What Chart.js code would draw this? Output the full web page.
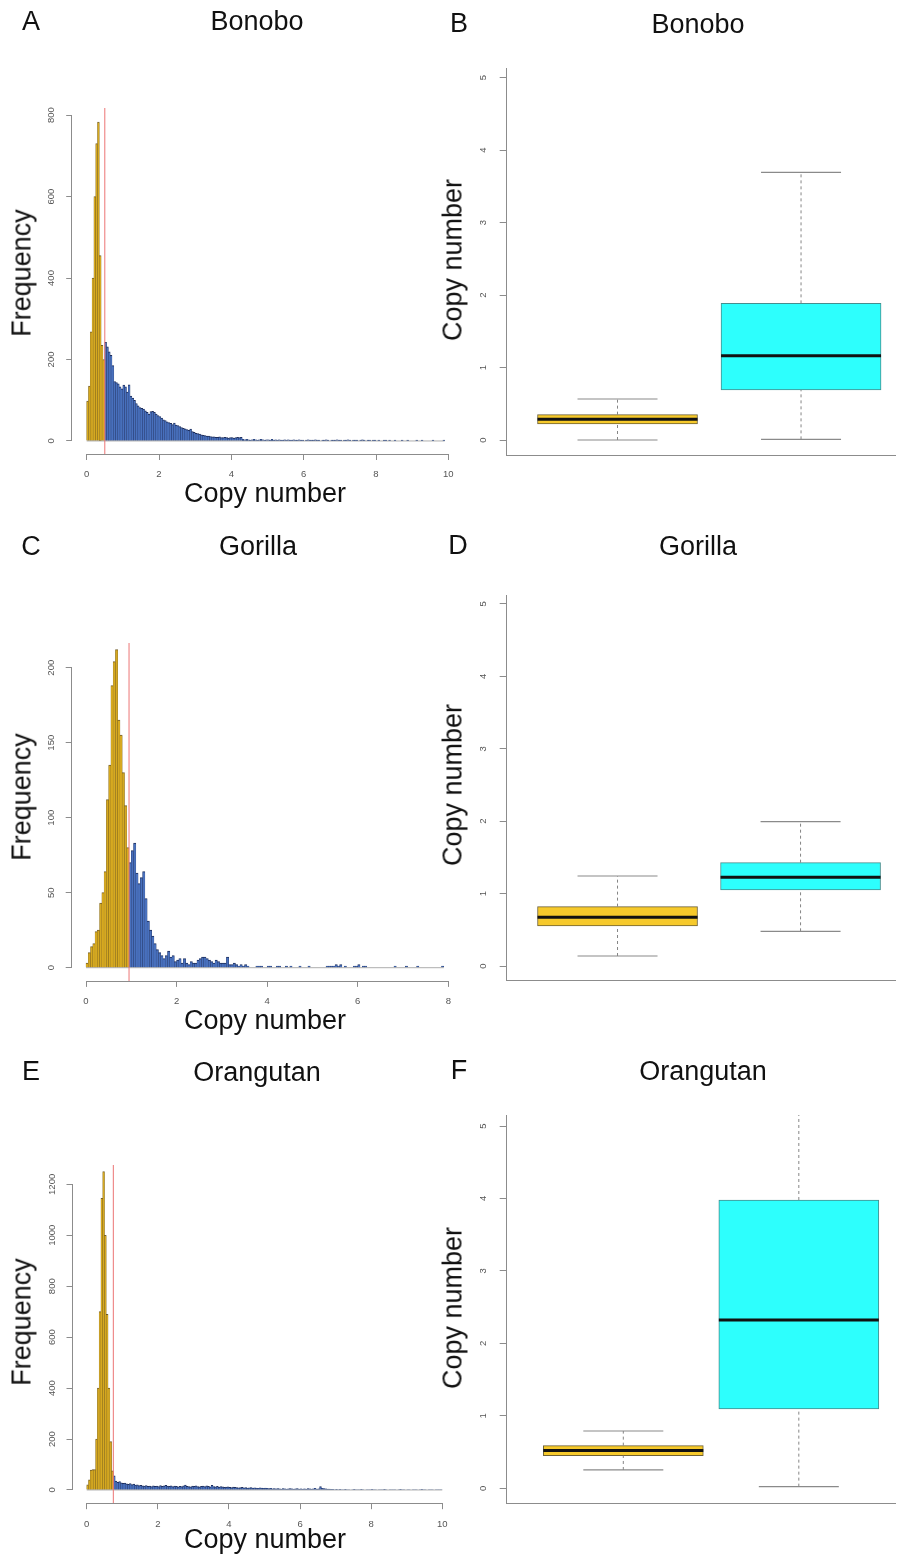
<!DOCTYPE html>
<html>
<head>
<meta charset="utf-8">
<script src="https://cdn.jsdelivr.net/npm/chart.js@4.4.1/dist/chart.umd.min.js"></script>
<style>
html,body{margin:0;padding:0;background:#fff;}
#page{position:relative;width:902px;height:1564px;overflow:hidden;background:#fff;font-family:"Liberation Sans",Arial,Helvetica,sans-serif;}
canvas{position:absolute;}
.t{position:absolute;white-space:nowrap;line-height:1;color:#111;font-size:27px;transform:translate(-50%,-50%);}
.t.r{transform:translate(-50%,-50%) rotate(-90deg);}
</style>
</head>
<body>
<div id="page"></div>
<script>
// ---------------- DATA ----------------
const binWidth = 0.05;

// Bonobo histogram (counts per 0.05 bin)
const bonoboThreshold = 0.5;
const bonoboBelow = [98, 135, 268, 400, 600, 730, 783, 455, 235, 200];
const bonoboAbove = [
  242,231,219,210,185,146,143,140,133,128,
  137,133,120,138,110,105,100,92,86,82,
  80,78,74,70,66,72,73,70,66,62,
  60,56,52,50,47,45,43,40,44,39,
  38,35,33,31,30,28,26,29,23,21,
  19,18,17,15,14,13,12,12,11,10,
  10,9,9,10,8,8,9,8,7,8,
  8,7,8,9,8,9,
  4,3,4,3,2,3,4,3,2,3,
  4,3,2,3,3,2,4,2,3,2,
  3,2,2,3,2,3,2,2,3,2,
  2,3,2,2,1,2,3,2,2,2,
  3,2,2,1,2,2,3,2,1,2,
  2,2,3,2,2,1,2,2,3,2,
  1,2,2,2,1,2,3,2,1,2,
  2,1,2,2,1,2,1,1,2,2,
  1,2,1,1,2,1,0,1,2,1,
  1,2,1,1,0,1,2,1,1,2,
  1,1,0,1,1,2,1,1,1,0,
  1,2];
const bonoboXTicks = [0, 2, 4, 6, 8, 10];
const bonoboYTicks = [0, 200, 400, 600, 800];

// Gorilla histogram
const gorillaThreshold = 0.95;
const gorillaBelow = [3, 10, 14, 16, 24, 25, 43, 50, 64, 112, 135, 188, 204, 212, 165, 155, 130, 108, 80];
const gorillaAbove = [
  70,78,83,63,56,60,64,46,31,25,
  21,16,12,10,8,6,8,11,7,8,
  4,5,6,3,6,3,2,4,3,3,
  5,6,7,7,6,5,4,3,5,4,
  3,3,3,7,2,2,3,2,1,2,
  1,2,1,0,0,0,1,1,1,0,
  0,1,1,0,0,1,1,0,0,1,
  0,1,0,0,0,1,0,0,0,1,
  0,0,0,0,0,0,0,1,1,1,
  1,2,1,2,0,1,0,0,0,1,
  1,2,0,1,1,0,0,0,0,0,
  0,0,0,0,0,0,0,1,0,0,
  0,0,1,0,0,0,0,1,0,0,
  0,0,0,0,0,0,0,0,1];
const gorillaXTicks = [0, 2, 4, 6, 8];
const gorillaYTicks = [0, 50, 100, 150, 200];

// Orangutan histogram
const orangutanThreshold = 0.75;
const orangutanBelow = [20, 40, 78, 80, 80, 200, 400, 700, 1145, 1250, 1000, 690, 400, 190, 75];
const orangutanAbove = [
  55,35,30,33,28,26,27,24,22,25,
  21,23,19,20,17,18,16,15,17,14,
  15,13,16,14,15,13,17,14,16,18,
  15,14,16,13,15,14,12,14,13,16,
  19,14,13,12,15,14,16,13,12,14,
  15,13,16,14,12,18,13,12,14,11,
  13,12,10,11,12,10,9,11,10,9,
  8,9,10,8,9,7,8,9,7,8,
  7,6,8,7,6,7,6,5,6,4,
  5,4,5,4,3,5,4,3,4,5,
  4,3,4,5,3,4,3,4,3,5,
  4,3,4,6,3,4,13,6,5,4,
  3,3,2,2,1,2,
  1,2,1,1,2,1,1,0,1,2,
  1,1,1,2,1,0,1,1,1,2,
  1,1,0,1,1,1,2,1,0,1,
  1,1,1,0,1,2,1,1,0,1,
  1,0,1,1,1,0,1,2,1,1,
  0,1,1,1,0,1,1,1,1];
const orangutanXTicks = [0, 2, 4, 6, 8, 10];
const orangutanYTicks = [0, 200, 400, 600, 800, 1000, 1200];

// Boxplots: [lower whisker, Q1, median, Q3, upper whisker]
const bonoboBoxBelow = [0.00, 0.221, 0.285, 0.35, 0.566];
const bonoboBoxAbove = [0.009, 0.69, 1.164, 1.886, 3.694];
const gorillaBoxBelow = [0.138, 0.552, 0.672, 0.82, 1.243];
const gorillaBoxAbove = [0.479, 1.05, 1.225, 1.427, 1.994];
const orangutanBoxBelow = [0.253, 0.451, 0.52, 0.589, 0.791];
const orangutanBoxAbove = [0.023, 1.095, 2.323, 3.979, 5.6];
const boxYTicks = [0, 1, 2, 3, 4, 5];

// ---------------- STYLE / LAYOUT ----------------
const FONT = '"Liberation Sans", Arial, Helvetica, sans-serif';
const YEL_FILL = '#D6A920', YEL_EDGE = 'rgba(90,68,10,0.85)';
const BLUE_FILL = '#4870BD', BLUE_EDGE = '#1E2E5C';
const BOX_YEL = '#F6C92B', BOX_CYAN = '#2DFFFD';
const AXIS = '#8c8c8c', TICKTXT = '#555';
const Y_AXIS_W = 40, X_AXIS_H = 40;
const HIST_W = 480, BOX_W = 462, BOX_LEFT = 440;
const BOX_PX = 160, CAP_PX = 80;

const page = document.getElementById('page');

function makeCanvas(left, top, w, h) {
  const c = document.createElement('canvas');
  c.width = w; c.height = h;
  c.style.left = left + 'px'; c.style.top = top + 'px';
  c.style.width = w + 'px'; c.style.height = h + 'px';
  page.appendChild(c);
  return c;
}
function pad(W, H, a) {
  return { left: a.l - Y_AXIS_W, right: W - a.r, top: a.t, bottom: H - a.b - X_AXIS_H };
}
function toBins(counts, start) {
  return counts.map((c, i) => ({ x: start + (i + 0.5) * binWidth, y: c }));
}
function fixedTicks(arr) {
  return (s) => { s.ticks = arr.map(v => ({ value: v })); };
}

function rPlugin(o) {
  return {
    id: 'rStyle',
    afterDatasetsDraw(chart) {
      const { ctx, chartArea: a, scales: { x, y } } = chart;
      ctx.save();
      ctx.beginPath();
      ctx.rect(a.left, a.top, a.right - a.left, a.bottom - a.top);
      ctx.clip();
      if (o.baseline) {
        ctx.strokeStyle = 'rgba(70,70,70,0.55)';
        ctx.lineWidth = 0.8;
        ctx.beginPath();
        const yb = y.getPixelForValue(0);
        ctx.moveTo(x.getPixelForValue(o.baseline[0]), yb);
        ctx.lineTo(x.getPixelForValue(o.baseline[1]), yb);
        ctx.stroke();
      }
      if (o.threshold !== undefined) {
        const xp = x.getPixelForValue(o.threshold);
        ctx.strokeStyle = 'rgba(236,120,120,0.85)';
        ctx.lineWidth = 1.2;
        ctx.beginPath();
        ctx.moveTo(xp, a.top + 6);
        ctx.lineTo(xp, a.bottom);
        ctx.stroke();
      }
      if (o.boxes) {
        o.boxes.forEach((s, i) => {
          const cx = x.getPixelForValue(i + 1);
          // dashed whiskers
          ctx.strokeStyle = '#858585';
          ctx.lineWidth = 1;
          ctx.setLineDash([3, 3]);
          ctx.beginPath();
          ctx.moveTo(cx, y.getPixelForValue(s[0]));
          ctx.lineTo(cx, y.getPixelForValue(s[1]));
          ctx.moveTo(cx, y.getPixelForValue(s[3]));
          ctx.lineTo(cx, y.getPixelForValue(s[4]));
          ctx.stroke();
          ctx.setLineDash([]);
          // caps
          ctx.strokeStyle = '#8a8a8a';
          ctx.lineWidth = 1.2;
          ctx.beginPath();
          [s[0], s[4]].forEach(v => {
            const yp = y.getPixelForValue(v);
            ctx.moveTo(cx - CAP_PX / 2, yp);
            ctx.lineTo(cx + CAP_PX / 2, yp);
          });
          ctx.stroke();
          // median
          ctx.strokeStyle = '#111';
          ctx.lineWidth = 3;
          ctx.beginPath();
          const ym = y.getPixelForValue(s[2]);
          ctx.moveTo(cx - BOX_PX / 2, ym);
          ctx.lineTo(cx + BOX_PX / 2, ym);
          ctx.stroke();
        });
      }
      ctx.restore();
    },
    afterDraw(chart) {
      const { ctx, chartArea: a, scales: { x, y } } = chart;
      ctx.save();
      if (o.axisLines) {
        ctx.strokeStyle = AXIS;
        ctx.lineWidth = 1;
        ctx.beginPath();
        const xt = x.ticks, yt = y.ticks;
        const xb = Math.round(a.bottom) + 0.5, yl = Math.round(a.left) - 0.5;
        ctx.moveTo(x.getPixelForValue(xt[0].value), xb);
        ctx.lineTo(x.getPixelForValue(xt[xt.length - 1].value), xb);
        ctx.moveTo(yl, y.getPixelForValue(yt[0].value));
        ctx.lineTo(yl, y.getPixelForValue(yt[yt.length - 1].value));
        ctx.stroke();
      }
      ctx.fillStyle = TICKTXT;
      ctx.font = '9.5px ' + FONT;
      ctx.textAlign = 'center';
      ctx.textBaseline = 'middle';
      y.ticks.forEach(t => {
        ctx.save();
        ctx.translate(a.left - o.yLabelOffset, y.getPixelForValue(t.value));
        ctx.rotate(-Math.PI / 2);
        ctx.fillText(String(t.value), 0, 0);
        ctx.restore();
      });
      ctx.restore();
    }
  };
}

function barSet(data, fill, edge) {
  return {
    data, backgroundColor: fill, borderColor: edge,
    borderWidth: { top: 1, left: 0.35, right: 0.35, bottom: 0 },
    grouped: false, barPercentage: 1, categoryPercentage: 1
  };
}

function drawHist(p, below, above, threshold, xTicks, yTicks) {
  const canvas = makeCanvas(0, p.top, HIST_W, p.h);
  const lastEnd = threshold + above.length * binWidth;
  new Chart(canvas, {
    type: 'bar',
    data: { datasets: [
      barSet(toBins(below, 0), YEL_FILL, YEL_EDGE),
      barSet(toBins(above, threshold), BLUE_FILL, BLUE_EDGE)
    ] },
    options: {
      responsive: false, animation: false, events: [],
      layout: { padding: pad(HIST_W, p.h, p.area) },
      plugins: { legend: { display: false }, tooltip: { enabled: false }, title: { display: false } },
      scales: {
        x: {
          type: 'linear', min: p.xRange[0], max: p.xRange[1], offset: false,
          afterBuildTicks: fixedTicks(xTicks),
          grid: { display: true, offset: false, drawOnChartArea: false, drawTicks: true, tickLength: 6, color: AXIS, lineWidth: 1 },
          border: { display: false },
          ticks: { color: TICKTXT, font: { size: 9.5, family: FONT }, padding: 9, maxRotation: 0, autoSkip: false, callback: v => String(v) },
          afterFit: s => { s.height = X_AXIS_H; }
        },
        y: {
          type: 'linear', min: p.yRange[0], max: p.yRange[1],
          afterBuildTicks: fixedTicks(yTicks),
          grid: { display: true, drawOnChartArea: false, drawTicks: true, tickLength: 6, color: AXIS, lineWidth: 1 },
          border: { display: false },
          ticks: { display: false },
          afterFit: s => { s.width = Y_AXIS_W; }
        }
      }
    },
    plugins: [rPlugin({ threshold, baseline: [0, lastEnd], axisLines: true, yLabelOffset: 20.5 })]
  });
}

function drawBox(p, boxBelow, boxAbove) {
  const canvas = makeCanvas(BOX_LEFT, p.top, BOX_W, p.h);
  const stats = [boxBelow, boxAbove];
  new Chart(canvas, {
    type: 'bar',
    data: { datasets: [{
      data: stats.map((s, i) => ({ x: i + 1, y: [s[1], s[3]] })),
      backgroundColor: [BOX_YEL, BOX_CYAN],
      borderColor: ['rgba(95,80,30,0.9)', 'rgba(50,130,130,0.9)'],
      borderWidth: 1, borderSkipped: false, barThickness: BOX_PX, grouped: false
    }] },
    options: {
      responsive: false, animation: false, events: [],
      layout: { padding: pad(BOX_W, p.h, p.area) },
      plugins: { legend: { display: false }, tooltip: { enabled: false }, title: { display: false } },
      scales: {
        x: {
          type: 'linear', min: p.xRange[0], max: p.xRange[1], offset: false,
          grid: { display: false, offset: false },
          border: { display: true, color: AXIS, width: 1 },
          ticks: { display: false },
          afterFit: s => { s.height = X_AXIS_H; }
        },
        y: {
          type: 'linear', min: p.yRange[0], max: p.yRange[1],
          afterBuildTicks: fixedTicks(boxYTicks),
          grid: { display: true, drawOnChartArea: false, drawTicks: true, tickLength: 7, color: AXIS, lineWidth: 1 },
          border: { display: true, color: AXIS, width: 1 },
          ticks: { display: false },
          afterFit: s => { s.width = Y_AXIS_W; }
        }
      }
    },
    plugins: [rPlugin({ boxes: stats, yLabelOffset: 23.4 })]
  });
}

// Panel geometry (canvas-relative plot regions)
const panelA = { top: 0, h: 520, area: { l: 72.2, r: 462.8, t: 102, b: 454 }, xRange: [-0.4, 10.4], yRange: [-32, 832] };
const panelC = { top: 520, h: 520, area: { l: 71.7, r: 458.1, t: 116.95, b: 460.9 }, xRange: [-0.316, 8.216], yRange: [-8.8, 220.5] };
const panelE = { top: 1040, h: 524, area: { l: 72.5, r: 456.5, t: 118.9, b: 463.2 }, xRange: [-0.4, 10.4], yRange: [-52, 1300] };
const panelB = { top: 0, h: 520, area: { l: 66.7, r: 455, t: 68, b: 455 }, xRange: [0.3962, 2.512], yRange: [-0.207, 5.134] };
const panelD = { top: 520, h: 520, area: { l: 66.7, r: 455, t: 75, b: 460.7 }, xRange: [0.3945, 2.516], yRange: [-0.203, 5.124] };
const panelF = { top: 1040, h: 524, area: { l: 66.7, r: 455, t: 75, b: 463.3 }, xRange: [0.3356, 2.548], yRange: [-0.207, 5.152] };

drawHist(panelA, bonoboBelow, bonoboAbove, bonoboThreshold, bonoboXTicks, bonoboYTicks);
drawHist(panelC, gorillaBelow, gorillaAbove, gorillaThreshold, gorillaXTicks, gorillaYTicks);
drawHist(panelE, orangutanBelow, orangutanAbove, orangutanThreshold, orangutanXTicks, orangutanYTicks);
drawBox(panelB, bonoboBoxBelow, bonoboBoxAbove);
drawBox(panelD, gorillaBoxBelow, gorillaBoxAbove);
drawBox(panelF, orangutanBoxBelow, orangutanBoxAbove);

// ---------------- TEXT ----------------
const texts = [
  ['A', 31, 21], ['Bonobo', 257, 21], ['B', 459, 23], ['Bonobo', 698, 24],
  ['C', 31, 546], ['Gorilla', 258, 546], ['D', 458, 545], ['Gorilla', 698, 546],
  ['E', 31, 1071], ['Orangutan', 257, 1072], ['F', 459, 1070], ['Orangutan', 703, 1071],
  ['Frequency', 22, 273, true], ['Copy number', 265, 493],
  ['Copy number', 453, 260, true],
  ['Frequency', 22, 797, true], ['Copy number', 265, 1020],
  ['Copy number', 453, 785, true],
  ['Frequency', 22, 1322, true], ['Copy number', 265, 1539],
  ['Copy number', 453, 1308, true]
];
texts.forEach(([s, x, y, rot]) => {
  const d = document.createElement('div');
  d.className = 't' + (rot ? ' r' : '');
  d.textContent = s;
  d.style.left = x + 'px';
  d.style.top = y + 'px';
  page.appendChild(d);
});
</script>
</body>
</html>
